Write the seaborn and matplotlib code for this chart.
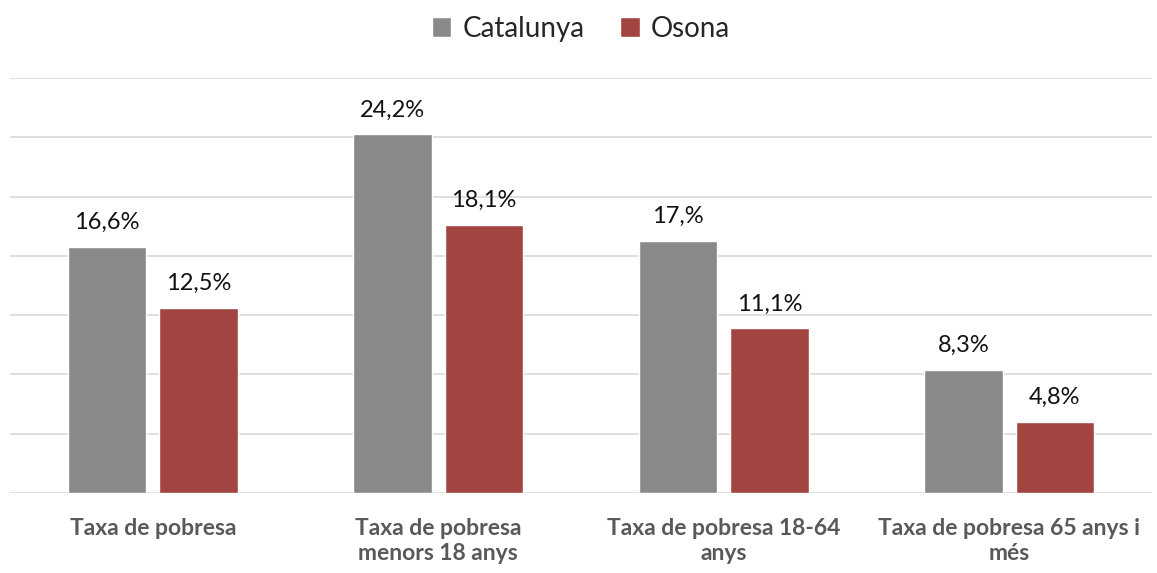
import pandas as pd
import matplotlib.pyplot as plt
import seaborn as sns

categories = ["Taxa de pobresa", "Taxa de pobresa\nmenors 18 anys",
              "Taxa de pobresa 18-64\nanys", "Taxa de pobresa 65 anys i\nmés"]
series = ["Catalunya", "Osona"]
catalunya = [16.6, 24.2, 17.0, 8.3]
osona = [12.5, 18.1, 11.1, 4.8]
labels_catalunya = ["16,6%", "24,2%", "17,%", "8,3%"]
labels_osona = ["12,5%", "18,1%", "11,1%", "4,8%"]
colors = ["#898989", "#A24540"]

df = pd.DataFrame({
    "categoria": categories * 2,
    "serie": [series[0]] * 4 + [series[1]] * 4,
    "valor": catalunya + osona,
})

sns.set_theme(style="white")
plt.rcParams["font.family"] = ["Lato", "DejaVu Sans"]

fig = plt.figure(figsize=(11.57, 5.73), dpi=100)
ax = fig.add_axes([10 / 1157, 80 / 573, 1142 / 1157, 415 / 573])

sns.barplot(data=df, x="categoria", y="valor", hue="serie", order=categories,
            hue_order=series, palette=colors, width=0.64, gap=0.14,
            saturation=1, ax=ax)

for cont, labs in zip(ax.containers, [labels_catalunya, labels_osona]):
    ax.bar_label(cont, labels=labs, padding=10, fontsize=17, color="#111111")

ax.set_ylim(0, 28)
ax.set_yticks(range(0, 29, 4))
ax.yaxis.grid(True, color="#d9d9d9", linewidth=1.2)
ax.set_axisbelow(True)
ax.tick_params(axis="y", left=False, labelleft=False)
ax.tick_params(axis="x", bottom=False, pad=12, labelsize=16.5, labelcolor="#595959")
for t in ax.get_xticklabels():
    t.set_fontweight("bold")
    t.set_linespacing(1.25)
ax.set_xlabel("")
ax.set_ylabel("")
for s in ["top", "right", "left", "bottom"]:
    ax.spines[s].set_visible(False)

ax.legend(loc="upper center", bbox_to_anchor=(0.5, 1.21), ncol=2, frameon=False,
          fontsize=20, handlelength=0.7, handleheight=0.7, handletextpad=0.4,
          columnspacing=1.3)

fig.savefig("out.png", dpi=100)
